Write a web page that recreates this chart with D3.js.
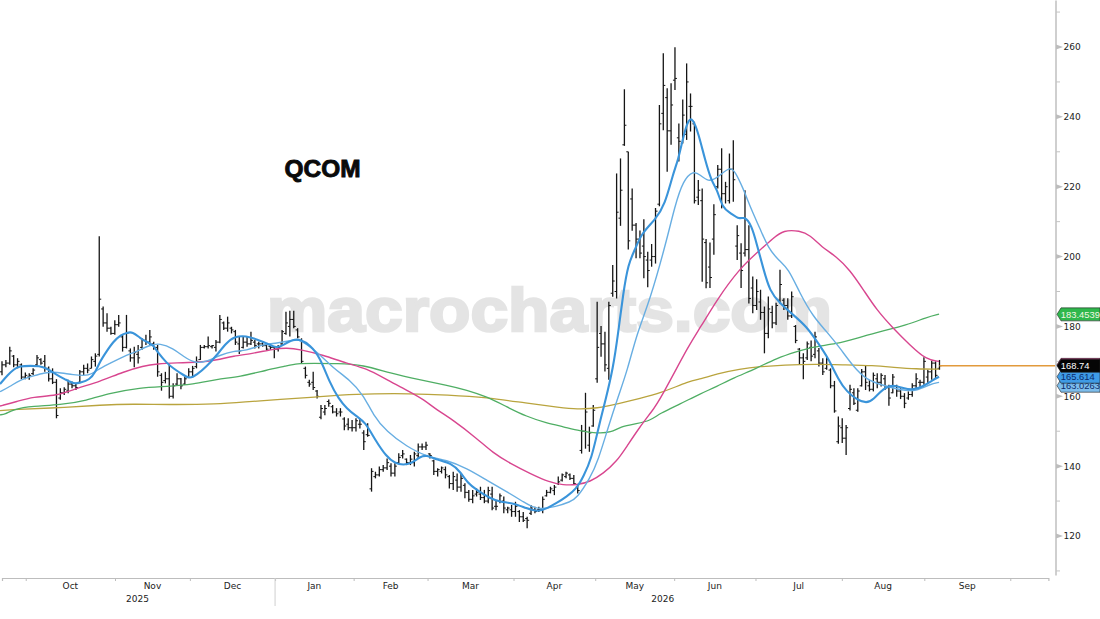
<!DOCTYPE html>
<html><head><meta charset="utf-8">
<script src="https://cdn.jsdelivr.net/npm/d3@7"></script>
<style>html,body{margin:0;padding:0;background:#fff;overflow:hidden}svg{display:block}</style>
</head><body><svg id="c" width="1100" height="619"></svg>
<script>
const highs=[170,170.4,174.2,171.8,170.9,169.4,166.8,166.6,168,171.8,170.9,171.8,168.5,168,164.9,162.3,162.6,164.7,164.2,163.9,167.5,169,169.4,171.4,172.3,205.8,185.7,183.8,179.9,181.8,183.3,177.6,183.3,173.7,174.2,174.7,176.6,177.6,179,175.6,174.7,166.6,167,169,163.7,166.6,165.2,165.6,168,168.7,171.4,174.7,174.7,177.1,174.7,176.1,183.3,181.4,182.8,179.9,179,177.1,177.1,177.1,178.5,176.1,175.6,175.6,175.1,174.7,174.2,174.7,179,184.2,184.5,184.5,179.5,
176.6,168.5,164.7,167,161.8,157.5,157.5,159.1,157.5,156.6,156.6,154,153.7,153.2,153.7,153.7,150.3,152.3,139.4,138.4,139.9,140.3,142.2,140.8,140.8,143.7,144.6,142.2,143.2,144.1,146.5,146.5,147,143.7,141.8,139.4,139.9,139.9,137.5,138.4,137.9,137.9,135.1,133.2,133.2,133.6,134.1,133.2,134.1,134.1,130.3,132.2,131.3,128.4,128.9,129.8,127.4,126.9,125.5,128.9,128.4,128.4,131.3,133.2,134.1,134.6,137,137.9,138.4,137.9,137.5,134.6,
151.8,161,151.3,157.5,187.1,180.1,178.5,187.1,197.6,223.8,228.1,247.9,230,219.5,209.6,207.5,210.7,201.4,203.6,213.9,243.4,258.2,248.2,249.6,259.9,238.1,245,255.3,246.7,238.6,221.9,219.5,205,204,215,226.2,231,221.4,229.5,233.3,209,203.8,219,209,194.3,193.5,190.5,185.7,188.6,185.9,186.8,196.2,188.1,188.1,190,180.4,173.8,172.3,175.7,176,178.5,173.8,170.9,171.4,168,164.4,154.2,153.7,151.8,163.3,162.3,162.3,167.8,168.7,164.7,166.8,166.6,166.6,166.1,163.3,166.4,163.3,162.3,160.9,161.4,163.7,166.6,164.7,171.2,167.6,170.2,170,170.4];
const lows=[166,168.3,169,168.3,168,164.9,164.9,164.7,166.1,168.7,169,167,164.2,163.5,153.7,159,160.4,160.9,162.3,161.8,163.7,166.1,166.6,168,168.5,171.4,179.9,178.5,177.6,177.6,179.9,172.8,173.7,169.9,168.3,169.4,173.3,174.7,174.7,173.3,165.6,161.6,163.7,159.4,159.4,163.2,162,163.2,165.2,165.6,168,170.4,173.7,173.7,173.7,172.8,175.2,179,178.5,178,174.7,172.1,173.7,174.2,174.7,173.7,173.7,174.2,173.1,173.3,170.9,172.8,174.7,177.6,177.1,179.5,176.6,
169.4,165.1,162.7,161.8,159.4,153.4,154.6,157,155.1,154.2,154.2,150.3,150.3,149.9,149.9,150.8,144.6,148.4,132.7,136.5,137,138.4,138.9,137,137,140.8,142.2,140.3,140.3,139.9,142.2,144.6,144.6,142.2,137.5,137,137.9,136.5,133.6,133.2,132.7,132.7,130.8,129.8,129.4,131.3,130.3,129.4,129.4,127.4,127.4,129.4,126.5,126.5,125.5,125.5,124,124,122.2,126,126.5,126.9,126.5,131.3,132.2,131.7,134.6,135.6,136.5,136,134.6,132.2,
143.6,145,144.1,151.3,163.9,171.3,167.1,164.7,188.5,188,208.8,231.7,202,207.4,199.5,199.5,193.8,191.2,197.1,198,214.4,236.2,224.3,232,247.7,227.2,232.4,233.4,235.8,215.2,214.8,192.8,190.9,191,200.5,219.5,213.8,215.2,215.2,215.7,199,191,200,186.6,183.8,184.7,181.9,172.3,176.6,179.5,180.4,186.6,184.7,181.9,182.4,175.2,169,164.9,170.4,170,170.9,168.5,166.1,167.6,162.3,155.3,146.4,146.6,143.2,155.9,157.5,155.6,162.8,161.8,161.4,161.4,162.3,162.8,161.8,157.3,160.9,159.9,159.2,156.6,159,159.9,162.3,162.3,163.3,163.7,164.7,165.2,167.6];
const opens=[167,169,169.5,171.5,169,169,165.5,165.5,166.5,169,170.5,170,168,165,164,159.5,161,161.5,163.5,163,164,167,168,168,170,172,185,181,179.5,178,180.5,177,174,173,171,172,174,176,175.5,175,174,166,164.5,165,160,163.5,165,163.5,165.5,167,168.5,170.5,174,174.2,174.2,174,175.5,181,179.5,179.5,178.5,175,174,175.5,175,175.5,175,175,174.5,174.3,174,173.5,175,178,180,182,179,
176,168,164,164,161.5,154,155.5,158.5,157,155.5,155.5,153.5,152,151,151,152,149.5,149,133.5,137,137.5,139,139.5,140,138,141,143,142,141,141,143,145.5,145.5,143.5,141.5,138.5,138.5,139,137,135,136,134,134.5,132.5,130.5,132,132,131,130,132,128.5,130,130,127.5,127.5,127,127,125.5,125,126.5,127.5,127.5,127.5,131.5,132.5,133,135,136,137,137.5,136.5,134,
144.5,150,146,151.5,165,178,175,168,189.5,190,211,232,230,216.5,209,205,203,199,199,200,215,241,245.5,236,250.5,234,232.5,235,243,238,217,216,204,197,205,220,225,218,216,225,203,201,201,202,191,186,187,184,178,184,181,187.5,187.5,186,183,180,173.5,171,171,174,172,173,169.5,168,167.5,163,147,151,148,156.5,161,156,163,167,163,162,165,164,165,162.5,161,163,161.5,160,159.5,160.5,163,164,164,165.5,167,169.5,168];
const closes=[169,169.5,173,169,170,165.5,166,166,167.5,171,169.5,168,165,164,154.5,161,162,163.5,163,162.5,167,168,167.5,170.5,171.5,187.8,181,179.5,178,180.5,181,174,178,171,172.5,171,176,175.5,177,174,167,164,165,160,163,165,163,165,167,168,170,174,174.2,174.5,174.5,175.5,182,179.5,181,179,175.5,173,175.5,175,176,174.5,175,174.5,173.5,174,173.5,174,178.5,181,182,180,177,
170,166,163.5,162.5,160,156.5,156.5,158,155.5,155,155.5,151.5,151,151,153,152,147,148.8,138.5,137.5,139,139.5,141,138,140,142.5,143.5,141,142,143.5,145.5,145.5,146,143,138.5,139,139.5,137.5,135,137,134,136.5,132.5,130.5,131.5,132.5,131,130,133,128,128.5,131.5,128,128,127,128.5,125.5,124.5,124.5,128,127,127.5,130.5,132.5,133.5,134,135.5,137.5,138,136.5,135,133,
150,155.5,149.5,156,174,175,169,186,193,212.7,219,237.6,204.5,209,205,201,200,196,200,213,238,249,236,243.4,251,233,240.5,250,243,216,219,205,192.5,194,212,225,218,220,225,222,206,196,202,188,186,190,184,178,185,181,186,192,186,183,188.5,176,171,170,175,171.5,177,169.5,167,170.5,163,155.8,151.5,148,151,162,158,161.5,167,164,162,166,164,166,162.5,159.5,165.5,161.5,160,158,160.5,163,165,164,170,167,169.5,166,168.74];

const fastIdx=[0,2,3.5,5,8,10,12,14.5,17,19,20.5,23,24.5,25.6,27.3,29,31,32.5,34,36,37.6,39.3,40.6,42.7,44.4,47,48.7,50.4,53,55.6,58,60,63.2,65.8,68.4,71,72.6,75.2,77,79.5,82,84.6,86.8,88.9,91.5,93.6,96.2,99.1,101.3,103.4,105.6,107.7,109.4,112,115.8,118,120,122.2,125.6,128.2,131.6,135,138,140.2,142.7,145.3,147.9,149.6,151.7,153.4,155.3,157.2,158.5,159.8,161.1,162.8,164.5,168,170.5,172.6,173.9,175.2,176.5,177.6,179.1,180.8,182.5,183.8,185.3,187.2,189.7,190.9,192.7,194,195.7,197.4,200,203.4,206.8,209.8,212.4,215,217.1,219.7,222.2,223.9,226.5,229,231.6,234.2,236.7,239.3,240.8];
const fastVal=[163.5,166.1,167.7,168.7,168.7,168.7,168,166.1,164.7,163.5,163.9,164.7,167,169.9,172.8,175.6,177.6,178.2,178.5,176.6,175.6,174.7,172.3,169.6,168,166.1,165,166.1,168.5,171.8,175.2,177.1,177.3,176.3,175.2,173.7,174.7,176.3,176.3,174.7,171.3,163.7,159.4,156.5,154.2,152.7,147.5,142.7,140.8,140.3,140.8,142.7,143.2,141.8,140.8,138.4,135.1,133.2,130.8,129.8,129.4,127.9,126.9,127.9,129.4,131.3,133.6,137,142.2,150.8,159,168,178,189.5,198,201.9,206.7,210.5,214.8,223.8,227.6,234.3,239.3,239.6,235.3,227.6,221.4,219.5,213.8,212.6,210.5,211.6,209,203.8,196.7,190,186.6,183.3,180,175.2,170.9,164.7,161.4,159,158,159,162.3,163.3,162.3,161.8,162.8,164.7,165.6];
const slowIdx=[0,2.6,5.1,8.5,11.5,14.5,18.8,23,24.8,28.2,31.6,35,38.5,41,44.4,47,50,53,56.4,59.8,63.2,66.7,71,75.2,77,81.2,85.5,89.7,93.2,95.7,99.1,104.3,109.4,114.5,119.7,124.8,129.9,134.2,137.6,142.7,146.2,147.9,151.3,153.4,156,158.5,160.9,163.3,166.7,171,173,175.2,177.8,179.5,181.6,183.8,187.2,188.5,190.4,192.7,194.9,197,199.6,202.1,205.1,208.5,212,215.4,218.8,222.2,226.5,230.8,235,238.5,240.8];
const slowVal=[161.3,162.8,164.7,165.8,166.8,167,166.1,165.8,167.5,169.4,171.4,172.8,174.7,175.2,173.7,171.4,169.4,169.9,171.8,173,173,174.7,175.2,176.1,176.3,172.8,168,164.7,160.4,154.6,149.9,145.6,142.7,141.8,139.4,136,132.7,129.8,127.4,128.4,129.8,130.8,136.5,141.7,151.3,159.9,167.5,178,187.6,204.8,214.3,221.9,224.6,223.4,221.4,222.4,225.9,224.3,220,213.3,208,202.4,199,196.7,189.5,182.8,178.5,173.8,168.5,164.7,163.1,161.8,161.4,163.5,164];
const pinkIdx=[0,4.3,8.5,14.5,19.7,25.6,31.6,36.8,40.2,45.3,51.3,55.6,59.8,65,70.1,73.5,77,82.9,88.9,94,99.2,105.1,108.6,112,116.2,122.2,126.5,130.8,135.9,141,144.4,147.9,151.3,154.7,158.1,160.7,164.1,167.1,169.2,176.9,179.5,183.8,189.7,194.9,198.3,200.9,205.1,207.7,210.7,214.5,217.9,221.4,224.8,229,233.3,237.6,240.8];
const pinkVal=[157.2,158.5,159.9,160.1,162.3,164.2,167,168.7,169.3,169.6,169.7,170.4,171.5,172.3,173.5,173.9,173.4,171.8,169.4,168,164.7,161.3,159.1,156.1,153.2,148,143.7,140.8,137.9,135.3,134.6,134.6,135.5,137.9,141.3,145.6,151.3,155.6,158.9,175.2,179.5,187.6,196.7,201.9,205.3,207.6,207.4,206.2,202.7,200,196.2,190.5,184.7,179.5,174.7,170.4,170];
const greenIdx=[0,1.3,3.4,8.5,15.4,22.2,28.2,35.9,42.7,49.6,55.6,61.5,68.4,73.5,76.1,80.3,86.3,93.2,100,107.7,114.5,119.7,124.8,129.9,135,140.2,144.4,148.7,153,156.8,159,163.3,166.7,169.2,174.4,179.5,183.8,188,194,199.1,204.3,208.5,214.5,219.7,225.6,232.5,237.6,240.8];
const greenVal=[154.7,154.8,156.3,157.2,157.5,158.8,160.9,162.5,162.8,163.4,164.9,165.6,167.5,168.7,169.4,169.4,169.4,169,166.6,164.7,163.2,161.8,159.9,157,154.2,152.3,151.3,150.1,149.4,149.6,151.3,152.2,153,155.1,157.8,160.7,162.8,165.2,168,170.9,172.8,174.2,175,176.6,178.5,180.4,182.6,183.5];
const goldIdx=[0,5.1,17,25.6,34.2,42.7,55.6,64,71.8,80.3,90.6,106,114.5,124.8,135,143.6,147.9,153,159,164.1,169.2,176.9,179.5,183.8,189.7,194.9,200.9,209.4,216.3,224,229.1,235,240.8];
const goldVal=[155.9,156.3,156.8,157.5,157.8,157.6,157.7,158.5,159.1,159.7,160.7,160.8,160.4,159.7,158,156.8,156.3,156.5,158,159.4,160.8,164.4,164.9,166.4,167.8,168.5,169,169.2,169,168.8,168.3,167.8,167.8];

const priceTicks=[120,140,160,180,200,220,240,260];
const minorTicks=[110,130,150,170,190,210,230,250,270];
const monthStarts=[6.1,29.05,48.3,70.2,90.4,109.4,131.5,152.5,172.8,193.7,215.9,237.1,259.2];
const monthNames=["Oct","Nov","Dec","Jan","Feb","Mar","Apr","May","Jun","Jul","Aug","Sep"];
const yearNames=["2025","2026"];
const yearEdges=[-0.5,70.2,269.5];
const lastPrice=168.74;
const flagValues=[169,163.0263,165.614,183.4539,168.74];
const flagTexts=["","163.0263","165.614","183.4539","168.74"];
const flagFills=["#d63a8c","#7dbdeb","#3f9be6","#2fb84c","#050505"];
const flagInks=["#fff","#0b2a6b","#0b2a6b","#f4f7e4","#fff"];
const watermarkText="macrocharts.com";
const titleText="QCOM";

const svg=d3.select("#c");
const x=d3.scaleLinear().domain([0,269]).range([2,1048.4]);
const xAvg=d3.scaleLinear().domain([0,269.5]).range([0,1051]);
const y=d3.scaleLinear().domain([120,260]).range([536,47]);
const axisFont="'DejaVu Sans',sans-serif";
const flagFont="'Liberation Sans',Arial,sans-serif";

svg.append("text").attr("x",267).attr("y",331).text(watermarkText)
  .attr("textLength",565).attr("lengthAdjust","spacingAndGlyphs")
  .attr("font-family","'Liberation Sans',Arial,sans-serif").attr("font-weight","700").attr("font-size",62)
  .attr("fill","#e4e4e4").attr("stroke","#e4e4e4").attr("stroke-width",2.5);

svg.append("text").attr("x",284.5).attr("y",177).text(titleText)
  .attr("textLength",76).attr("lengthAdjust","spacingAndGlyphs")
  .attr("font-family","'Liberation Sans',Arial,sans-serif").attr("font-weight","700").attr("font-size",24)
  .attr("fill","#0a0a0a").attr("stroke","#0a0a0a").attr("stroke-width",0.9);

// OHLC bars
const bars=svg.append("g").attr("stroke","#151515").attr("fill","none").attr("stroke-width",1.3);
highs.forEach((h,i)=>{
  const g=bars.append("g");
  g.append("line").attr("x1",x(i)).attr("x2",x(i)).attr("y1",y(h)).attr("y2",y(lows[i]));
  g.append("line").attr("x1",x(i)-2).attr("x2",x(i)).attr("y1",y(opens[i])).attr("y2",y(opens[i])).attr("stroke-width",1);
  g.append("line").attr("x1",x(i)).attr("x2",x(i)+2).attr("y1",y(closes[i])).attr("y2",y(closes[i])).attr("stroke-width",1);
});

// moving averages
const line=d3.line().curve(d3.curveBasis).x(d=>xAvg(d[0])).y(d=>y(d[1]));
const drawMA=(idx,val,color,w)=>svg.append("path").attr("d",line(idx.map((v,i)=>[v,val[i]])))
  .attr("fill","none").attr("stroke",color).attr("stroke-width",w).attr("stroke-linejoin","round");
drawMA(goldIdx,goldVal,"#b9a43e",1.3);
drawMA(greenIdx,greenVal,"#4fae64",1.3);
drawMA(pinkIdx,pinkVal,"#d8468f",1.4);
drawMA(slowIdx,slowVal,"#68aee2",1.4);
drawMA(fastIdx,fastVal,"#3a94da",2.1);

svg.append("line").attr("x1",x(241)).attr("x2",1055).attr("y1",y(lastPrice)).attr("y2",y(lastPrice))
  .attr("stroke","#e29a3c").attr("stroke-width",1.3);

// bottom axis
const ax=svg.append("g").attr("transform","translate(0,578)")
  .call(d3.axisBottom(x).tickValues(monthStarts).tickSize(3).tickFormat(""));
ax.selectAll("path").attr("stroke","#bdbdbd").attr("stroke-width",1.2);
ax.selectAll("line").attr("stroke","#bdbdbd");
monthNames.forEach((m,i)=>svg.append("text").attr("x",x((monthStarts[i]+monthStarts[i+1])/2)).attr("y",589)
  .attr("text-anchor","middle").attr("font-family",axisFont).attr("font-size",9).attr("fill","#222").text(m));
yearNames.forEach((t,i)=>svg.append("text").attr("x",x((yearEdges[i]+yearEdges[i+1])/2)).attr("y",601.5)
  .attr("text-anchor","middle").attr("font-family",axisFont).attr("font-size",9).attr("fill","#222").text(t));
svg.append("line").attr("x1",x(yearEdges[1])).attr("x2",x(yearEdges[1])).attr("y1",578).attr("y2",606).attr("stroke","#cfcfcf");

// right axis
const ayScale=d3.scaleLinear().domain([y.invert(575),y.invert(0)]).range([575,0]);
const ay=svg.append("g").attr("transform","translate(1055.5,0)")
  .call(d3.axisRight(ayScale).tickValues(priceTicks).tickSize(0).tickPadding(8).tickFormat(d3.format("d")));
ay.selectAll("path").attr("stroke","#b5b5b5").attr("stroke-width",1.3);
ay.selectAll("text").attr("font-family",axisFont).attr("font-size",9).attr("fill","#222");
priceTicks.forEach(t=>svg.append("path").attr("d",d3.line()([[1056,y(t)-2.5],[1063,y(t)],[1056,y(t)+2.5]])).attr("fill","#bdbdbd"));
minorTicks.forEach(t=>svg.append("line").attr("x1",1056).attr("x2",1060).attr("y1",y(t)).attr("y2",y(t)).attr("stroke","#c4c4c4"));

// last value flags
flagValues.forEach((v,i)=>{
  const c=y(v);
  svg.append("path").attr("d",d3.line()([[1057,c],[1061,c-6.5],[1100,c-6.5],[1100,c+6.5],[1061,c+6.5]])+"Z")
    .attr("fill",flagFills[i]).attr("stroke","#222").attr("stroke-width",0.6);
  if(flagTexts[i]) svg.append("text").attr("x",1060.8).attr("y",c+3.5).attr("font-family",flagFont).attr("font-size",9.4)
    .attr("fill",flagInks[i]).text(flagTexts[i]);
});
</script></body></html>
